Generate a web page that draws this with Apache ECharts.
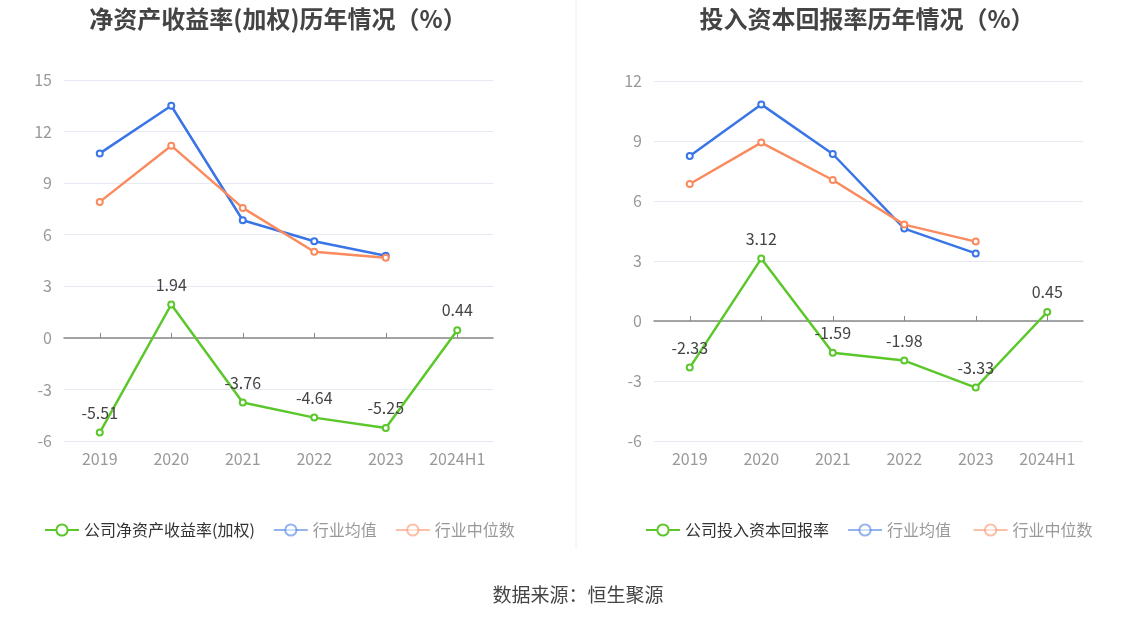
<!DOCTYPE html>
<html>
<head>
<meta charset="utf-8">
<script src="https://cdn.jsdelivr.net/npm/echarts@6/dist/echarts.min.js"></script>
<style>
  html, body { margin: 0; padding: 0; background: #fff; }
  #main { width: 1147px; height: 619px; }
</style>
</head>
<body>
<div id="main"></div>
<script>
const years = ['2019', '2020', '2021', '2022', '2023', '2024H1'];

// left: 净资产收益率(加权)
const roeCompany = [-5.51, 1.94, -3.76, -4.64, -5.25, 0.44];
const roeAvg = [10.73, 13.5, 6.84, 5.62, 4.78];
const roeMedian = [7.91, 11.18, 7.56, 5.01, 4.66];

// right: 投入资本回报率
const roicCompany = [-2.33, 3.12, -1.59, -1.98, -3.33, 0.45];
const roicAvg = [8.25, 10.83, 8.35, 4.62, 3.38];
const roicMedian = [6.85, 8.92, 7.05, 4.82, 3.97];

const green = '#5bc72b';
const blue = '#3a75e6';
const orange = '#f98b5e';
const font = '"Noto Sans CJK SC", "Noto Sans", sans-serif';

function lineSeries(name, data, color, idx, withLabel) {
    return {
        name: name,
        type: 'line',
        xAxisIndex: idx * 2,
        yAxisIndex: idx,
        data: data,
        symbol: 'emptyCircle',
        symbolSize: 6,
        z: withLabel ? 5 : 3,
        itemStyle: { color: color, borderWidth: 2 },
        lineStyle: { color: color, width: 2.5 },
        label: withLabel ? {
            show: true, position: 'top', distance: 8,
            color: '#444', fontSize: 16, fontFamily: font
        } : { show: false }
    };
}

function xAxes(gridIndex) {
    return [{
        type: 'category', gridIndex: gridIndex, data: years,
        axisLine: { show: false, onZero: false },
        axisTick: { show: false },
        axisLabel: { color: '#999', fontSize: 16, margin: 10, interval: 0, fontFamily: font }
    }, {
        type: 'category', gridIndex: gridIndex, data: years,
        axisLine: { show: true, onZero: true, lineStyle: { color: '#888', width: 1.5 } },
        axisTick: { show: true, alignWithLabel: true, interval: 0, length: 5, lineStyle: { color: '#888' } },
        axisLabel: { show: false }
    }];
}

function yAxis(gridIndex, min, max) {
    return {
        type: 'value', gridIndex: gridIndex, min: min, max: max, interval: 3,
        axisLine: { show: false }, axisTick: { show: false },
        axisLabel: { color: '#999', fontSize: 16, margin: 12, fontFamily: font },
        splitLine: { lineStyle: { color: '#e6e9f2' } }
    };
}

function legend(left, names) {
    return {
        left: left, top: 517, itemWidth: 34, itemHeight: 14, itemGap: 18,
        textStyle: { fontSize: 16, fontFamily: font },
        data: [
            { name: names[0], textStyle: { color: '#333' } },
            { name: names[1], textStyle: { color: '#999' }, itemStyle: { opacity: 0.55 }, lineStyle: { opacity: 0.55 } },
            { name: names[2], textStyle: { color: '#999' }, itemStyle: { opacity: 0.55 }, lineStyle: { opacity: 0.55 } }
        ]
    };
}

const chart = echarts.init(document.getElementById('main'));
chart.setOption({
    animation: false,
    title: [{
        text: '净资产收益率(加权)历年情况（%）', left: 273, top: 2, textAlign: 'center',
        textStyle: { fontSize: 24, fontWeight: 'bold', color: '#444', fontFamily: font }
    }, {
        text: '投入资本回报率历年情况（%）', left: 862, top: 2, textAlign: 'center',
        textStyle: { fontSize: 24, fontWeight: 'bold', color: '#444', fontFamily: font }
    }, {
        text: '数据来源：恒生聚源', left: 573, top: 580, textAlign: 'center',
        textStyle: { fontSize: 19, fontWeight: 'normal', color: '#444', fontFamily: font }
    }],
    graphic: [{
        type: 'line', shape: { x1: 576, y1: 0, x2: 576, y2: 549 },
        style: { stroke: '#eee', lineWidth: 1 }
    }],
    legend: [
        legend(39, ['公司净资产收益率(加权)', '行业均值', '行业中位数']),
        legend(640, ['公司投入资本回报率', '行业均值 ', '行业中位数 '])
    ],
    grid: [
        { left: 64, top: 80, width: 429, height: 361 },
        { left: 654, top: 81, width: 429, height: 360 }
    ],
    xAxis: [...xAxes(0), ...xAxes(1)],
    yAxis: [yAxis(0, -6, 15), yAxis(1, -6, 12)],
    series: [
        lineSeries('行业均值', roeAvg, blue, 0, false),
        lineSeries('行业中位数', roeMedian, orange, 0, false),
        lineSeries('公司净资产收益率(加权)', roeCompany, green, 0, true),
        lineSeries('行业均值 ', roicAvg, blue, 1, false),
        lineSeries('行业中位数 ', roicMedian, orange, 1, false),
        lineSeries('公司投入资本回报率', roicCompany, green, 1, true)
    ]
});
</script>
</body>
</html>
